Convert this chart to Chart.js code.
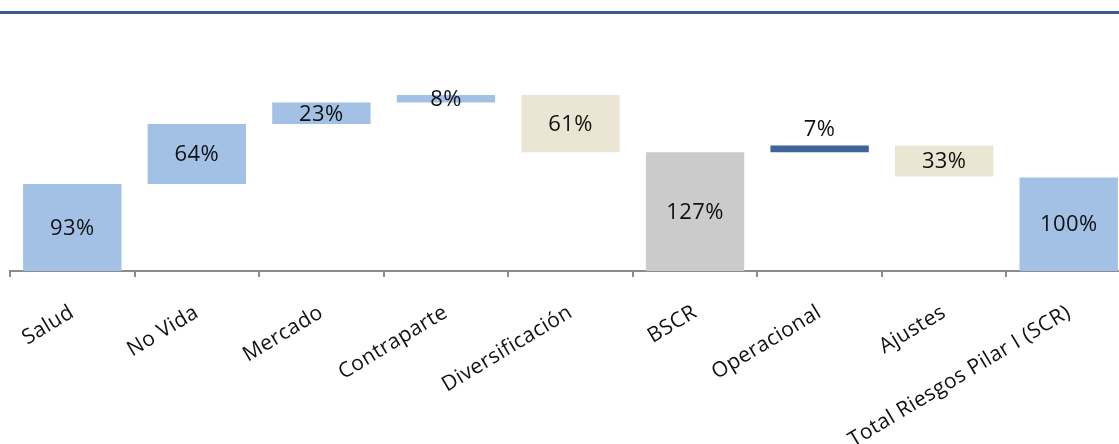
<!DOCTYPE html>
<html>
<head>
<meta charset="utf-8">
<script src="https://cdn.jsdelivr.net/npm/chart.js@4.4.1/dist/chart.umd.min.js"></script>
<style>
  html, body { margin: 0; padding: 0; background: #fff; overflow: hidden; width: 1119px; height: 444px; }
  #topline { position: absolute; left: 0; top: 11px; width: 1119px; height: 3px; background: #3b5e8c; }
  #wrap { position: absolute; left: 0; top: 0; width: 1140px; height: 444px; }
</style>
</head>
<body>
<div id="wrap"><canvas id="c"></canvas></div>
<div id="topline"></div>
<script>
// ---- data ----
const categories = ['Salud', 'No Vida', 'Mercado', 'Contraparte', 'Diversificación', 'BSCR', 'Operacional', 'Ajustes', 'Total Riesgos Pilar I (SCR)'];
const values = [93, 64, 23, 8, -61, 127, 7, -33, 100];
const isTotal = [false, false, false, false, false, true, false, false, true];

// ---- styles ----
const barColors = ['#a3c1e5', '#a3c1e5', '#a3c1e5', '#a3c1e5', '#ebe6d3', '#cbcbcb', '#3e6598', '#ebe6d3', '#a3c1e5'];
const labelAbove = [false, false, false, false, false, false, true, false, false];

// build floating ranges from values
const ranges = [];
let running = 0;
values.forEach((v, i) => {
  if (isTotal[i]) { ranges.push([0, v]); running = v; }
  else { ranges.push([running, running + v]); running += v; }
});

const spacing = {
  id: 'spacing',
  beforeLayout(chart) { chart.ctx.letterSpacing = '0.4px'; },
  beforeDraw(chart) { chart.ctx.letterSpacing = '0.4px'; }
};

const valueLabels = {
  id: 'valueLabels',
  afterDatasetsDraw(chart) {
    const ctx = chart.ctx;
    const meta = chart.getDatasetMeta(0);
    ctx.save();
    ctx.letterSpacing = '0.4px';
    ctx.font = '22px "Open Sans"';
    ctx.fillStyle = '#111';
    ctx.textAlign = 'center';
    ctx.textBaseline = 'middle';
    meta.data.forEach((bar, i) => {
      const top = Math.min(bar.y, bar.base);
      const bot = Math.max(bar.y, bar.base);
      const txt = Math.abs(values[i]) + '%';
      let y = (top + bot) / 2 + 1;
      if (labelAbove[i]) y = top - 16;
      ctx.fillText(txt, bar.x, y);
    });
    ctx.restore();
  }
};

new Chart(document.getElementById('c'), {
  type: 'bar',
  data: {
    labels: categories,
    datasets: [{
      data: ranges,
      backgroundColor: barColors,
      borderWidth: 0,
      barPercentage: 0.79,
      categoryPercentage: 1.0
    }]
  },
  options: {
    responsive: true,
    maintainAspectRatio: false,
    animation: false,
    layout: { padding: { left: 10, right: 9, top: 37, bottom: 0 } },
    plugins: { legend: { display: false }, tooltip: { enabled: false } },
    scales: {
      x: {
        offset: true,
        grid: { offset: true, drawOnChartArea: false, drawTicks: true, tickLength: 6, color: '#8c8c8c', lineWidth: 2 },
        border: { display: true, color: '#8c8c8c', width: 2 },
        ticks: {
          autoSkip: false,
          minRotation: 31, maxRotation: 31,
          padding: 23,
          color: '#111',
          font: { family: '"Open Sans"', size: 21 }
        },
        afterFit(scale) { scale.height = 173; }
      },
      y: {
        display: false,
        min: 0, max: 250
      }
    }
  },
  plugins: [spacing, valueLabels]
});
</script>
</body>
</html>
